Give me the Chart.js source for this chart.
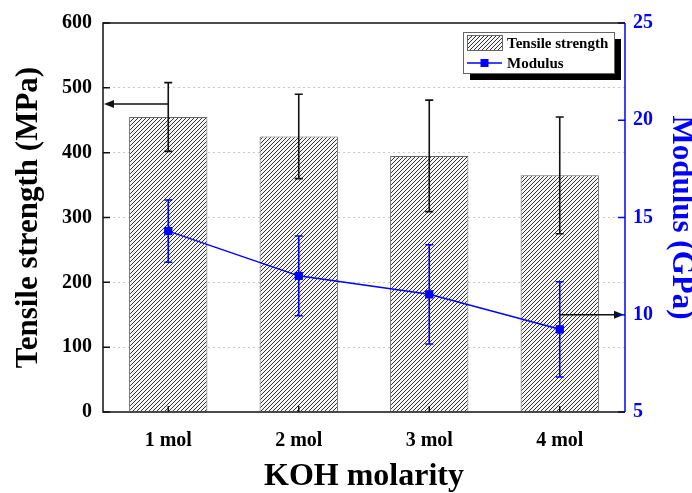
<!DOCTYPE html>
<html><head><meta charset="utf-8">
<script src="https://cdn.jsdelivr.net/npm/chart.js@4"></script>
<style>html,body{margin:0;padding:0;background:#fff}#wrap{width:692px;height:493px}</style>
</head><body><div id="wrap"><canvas id="c" width="692" height="493"></canvas></div>
<script>
// ---- data ----
const categories = ['1 mol', '2 mol', '3 mol', '4 mol'];
const tensileStrength = [455, 425, 395, 365];
const tensileError = [53, 65, 86, 90];
const modulus = [14.3, 12.0, 11.05, 9.25];
const modulusError = [1.6, 2.05, 2.55, 2.45];
const leftTicks = [0, 100, 200, 300, 400, 500, 600];
const rightTicks = [5, 10, 15, 20, 25];
const leftArrowValue = 475;   // MPa, arrow pointing to left axis
const rightArrowValue = 10;   // GPa, arrow pointing to right axis

const FONT = 'Liberation Serif, Times New Roman, serif';
const BLUE = '#0000ff';

function makeHatch() {
  const s = 4;
  const c = document.createElement('canvas');
  c.width = s; c.height = s;
  const g = c.getContext('2d');
  g.fillStyle = '#f6f6f6';
  g.fillRect(0, 0, s, s);
  g.strokeStyle = '#333';
  g.lineWidth = 1.0;
  g.beginPath();
  g.moveTo(0, s); g.lineTo(s, 0);
  g.moveTo(-1, 1); g.lineTo(1, -1);
  g.moveTo(s - 1, s + 1); g.lineTo(s + 1, s - 1);
  g.stroke();
  return g.createPattern(c, 'repeat');
}
const hatch = makeHatch();

function arrowHead(ctx, x, y, dir) {
  ctx.beginPath();
  ctx.moveTo(x, y);
  ctx.lineTo(x - dir * 10, y - 4);
  ctx.lineTo(x - dir * 10, y + 4);
  ctx.closePath();
  ctx.fill();
}

const deco = {
  id: 'deco',
  afterDatasetsDraw(chart) {
    const ctx = chart.ctx;
    const x = chart.scales.x, y = chart.scales.y, y1 = chart.scales.y1;
    const a = chart.chartArea;
    ctx.save();
    const drawErr = (xp, t, b, color) => {
      ctx.strokeStyle = color;
      ctx.lineWidth = 1.6;
      ctx.beginPath();
      ctx.moveTo(xp, t); ctx.lineTo(xp, b);
      ctx.moveTo(xp - 4, t); ctx.lineTo(xp + 4, t);
      ctx.moveTo(xp - 4, b); ctx.lineTo(xp + 4, b);
      ctx.stroke();
    };
    categories.forEach((c, i) => {
      const xp = x.getPixelForValue(i);
      drawErr(xp, y.getPixelForValue(tensileStrength[i] + tensileError[i]),
        y.getPixelForValue(tensileStrength[i] - tensileError[i]), '#111');
    });
    categories.forEach((c, i) => {
      const xp = x.getPixelForValue(i);
      drawErr(xp, y1.getPixelForValue(modulus[i] + modulusError[i]),
        y1.getPixelForValue(modulus[i] - modulusError[i]), BLUE);
    });
    // markers on top of error bars
    ctx.fillStyle = BLUE;
    categories.forEach((c, i) => {
      const xp = x.getPixelForValue(i), yp = y1.getPixelForValue(modulus[i]);
      ctx.fillRect(xp - 4, yp - 4, 8, 8);
    });
    // arrows
    ctx.strokeStyle = '#111'; ctx.fillStyle = '#111'; ctx.lineWidth = 1.6;
    const ly = y.getPixelForValue(leftArrowValue);
    ctx.beginPath(); ctx.moveTo(x.getPixelForValue(0), ly); ctx.lineTo(a.left + 4, ly); ctx.stroke();
    arrowHead(ctx, a.left + 1, ly, -1);
    const ry = y1.getPixelForValue(rightArrowValue);
    ctx.beginPath(); ctx.moveTo(x.getPixelForValue(3), ry); ctx.lineTo(a.right - 4, ry); ctx.stroke();
    arrowHead(ctx, a.right - 1, ry, 1);
    ctx.restore();
  },
  afterDraw(chart) {
    const ctx = chart.ctx;
    const x = chart.scales.x, y = chart.scales.y, y1 = chart.scales.y1;
    const a = chart.chartArea;
    ctx.save();
    ctx.lineWidth = 1.5;
    ctx.strokeStyle = '#111';
    ctx.beginPath();
    leftTicks.forEach(v => { const p = y.getPixelForValue(v); ctx.moveTo(a.left, p); ctx.lineTo(a.left + 7, p); });
    categories.forEach((c, i) => { const p = x.getPixelForValue(i); ctx.moveTo(p, a.bottom); ctx.lineTo(p, a.bottom - 6); });
    ctx.stroke();
    ctx.strokeStyle = BLUE;
    ctx.beginPath();
    rightTicks.forEach(v => { const p = y1.getPixelForValue(v); ctx.moveTo(a.right, p); ctx.lineTo(a.right - 7, p); });
    ctx.stroke();
    // frame
    ctx.strokeStyle = '#111';
    ctx.beginPath();
    ctx.moveTo(a.right, a.top); ctx.lineTo(a.left, a.top); ctx.lineTo(a.left, a.bottom); ctx.lineTo(a.right, a.bottom);
    ctx.stroke();
    ctx.strokeStyle = BLUE;
    ctx.beginPath(); ctx.moveTo(a.right, a.top); ctx.lineTo(a.right, a.bottom); ctx.stroke();
    // legend
    const bx = a.right - 162, by = a.top + 9, bw = 151, bh = 41;
    ctx.fillStyle = '#000';
    ctx.fillRect(bx + 7, by + 7, bw, bh);
    ctx.fillStyle = '#fff';
    ctx.fillRect(bx, by, bw, bh);
    ctx.strokeStyle = '#666'; ctx.lineWidth = 1;
    ctx.strokeRect(bx + 0.5, by + 0.5, bw, bh);
    ctx.fillStyle = hatch;
    ctx.fillRect(bx + 4, by + 3, 35, 15);
    ctx.strokeStyle = '#666';
    ctx.strokeRect(bx + 4.5, by + 3.5, 35, 15);
    ctx.strokeStyle = BLUE; ctx.lineWidth = 1.5;
    ctx.beginPath(); ctx.moveTo(bx + 4, by + 31); ctx.lineTo(bx + 39, by + 31); ctx.stroke();
    ctx.fillStyle = BLUE;
    ctx.fillRect(bx + 17.5, by + 27, 8, 8);
    ctx.fillStyle = '#000';
    ctx.font = 'bold 15px ' + FONT;
    ctx.textBaseline = 'alphabetic';
    ctx.fillText(chart.data.datasets[1].label, bx + 44, by + 16);
    ctx.fillText(chart.data.datasets[0].label, bx + 44, by + 36);
    ctx.restore();
  }
};

new Chart(document.getElementById('c'), {
  data: {
    labels: categories,
    datasets: [
      {
        type: 'line', label: 'Modulus', data: modulus, yAxisID: 'y1', order: 1,
        borderColor: BLUE, backgroundColor: BLUE, borderWidth: 1.5,
        pointStyle: 'rect', pointRadius: 5.5, pointBorderWidth: 0, pointBackgroundColor: BLUE,
        tension: 0
      },
      {
        type: 'bar', label: 'Tensile strength', data: tensileStrength, yAxisID: 'y', order: 2,
        backgroundColor: hatch, borderColor: '#666', borderWidth: 1,
        barPercentage: 0.6, categoryPercentage: 1
      }
    ]
  },
  options: {
    responsive: false, animation: false, devicePixelRatio: 1,
    layout: { padding: { top: 22, left: 0, right: 0, bottom: 0 } },
    plugins: { legend: { display: false }, tooltip: { enabled: false } },
    scales: {
      x: {
        type: 'category',
        afterFit: s => { s.height = 81; },
        grid: { display: false, drawTicks: false },
        border: { display: false },
        ticks: { color: '#000', padding: 17, font: { family: FONT, size: 20, weight: 'bold' } },
        title: { display: true, text: 'KOH molarity', color: '#000',
          font: { family: FONT, size: 32, weight: 'bold', lineHeight: 1 }, padding: { top: 0, bottom: 0 } }
      },
      y: {
        position: 'left', min: 0, max: 600,
        afterBuildTicks: s => { s.ticks = leftTicks.map(v => ({ value: v })); },
        afterFit: s => { s.width = 103; },
        grid: {
          drawTicks: false, lineWidth: 1,
          color: c => (c.tick && (c.tick.value === 0 || c.tick.value === 600)) ? 'rgba(0,0,0,0)' : '#c8c8c8'
        },
        border: { display: false, dash: [2, 3] },
        ticks: { color: '#000', padding: 11, font: { family: FONT, size: 20, weight: 'bold' } },
        title: { display: true, text: 'Tensile strength (MPa)', color: '#000',
          font: { family: FONT, size: 31, weight: 'bold', lineHeight: 1 }, padding: { top: 13, bottom: 0 } }
      },
      y1: {
        position: 'right', min: 5, max: 25,
        afterBuildTicks: s => { s.ticks = rightTicks.map(v => ({ value: v })); },
        afterFit: s => { s.width = 67; },
        grid: { drawOnChartArea: false, drawTicks: false },
        border: { display: false },
        ticks: { color: BLUE, padding: 8, font: { family: FONT, size: 20, weight: 'bold' } },
        title: { display: true, text: 'Modulus (GPa)', color: BLUE,
          font: { family: FONT, size: 31, weight: 'bold', lineHeight: 1 }, padding: { top: -5, bottom: 0 } }
      }
    }
  },
  plugins: [deco]
});
</script>
</body></html>
